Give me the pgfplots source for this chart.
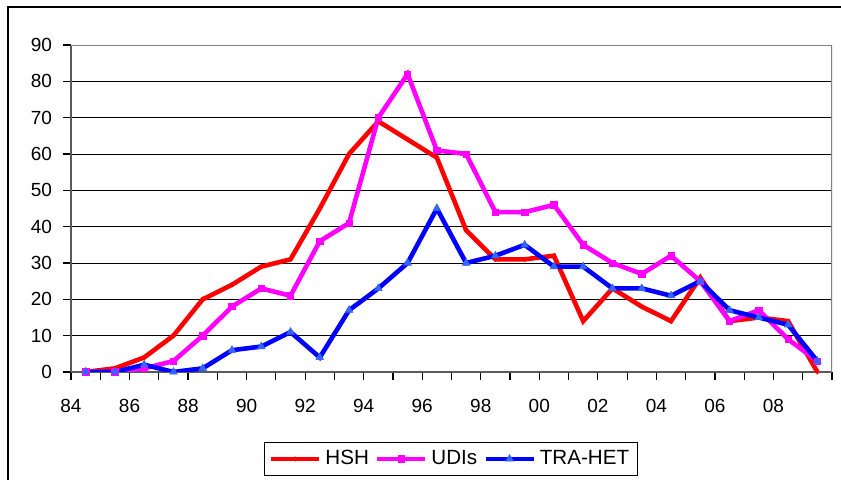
\documentclass[border=0pt]{standalone}
\usepackage{fontspec}
\setmainfont{Liberation Sans}
\usepackage{pgfplots}
\pgfplotsset{compat=1.18}
\definecolor{hsh}{HTML}{FF0000}
\definecolor{udi}{HTML}{FF00FF}
\definecolor{tra}{HTML}{0000FF}
\definecolor{tramark}{HTML}{3366FF}

% index 0..25 = 1985..2010, plotted at category centres (i+0.5)
\begin{document}
\begin{tikzpicture}
\useasboundingbox (0,0) rectangle (420.5pt,240pt);
\draw[black, line width=0.6pt] (4pt,0) -- (4pt,236.5pt) -- (421pt,236.5pt);
\begin{axis}[
  at={(35.5pt,54pt)}, anchor=south west,
  scale only axis, width=380.5pt, height=163.5pt,
  xmin=0, xmax=26, ymin=0, ymax=90,
  xtick={0,...,26},
  xticklabels={84,,86,,88,,90,,92,,94,,96,,98,,00,,02,,04,,06,,08,,,},
  ytick={0,10,...,90},
  ymajorgrids, grid style={black, line width=0.5pt},
  tick align=outside, major tick length=4pt,
  tick style={black, line width=0.6pt},
  axis line style={draw=gray!70!black, line width=1.1pt},
  axis x line*=bottom, axis y line*=left,
  font=\fontsize{9.5}{11}\selectfont,
  /pgf/number format/assume math mode=true,
  xticklabel style={yshift=-6pt},
  yticklabel style={xshift=-2pt},
  legend style={at={(0.4993,-0.266)}, anchor=center, legend columns=3,
    draw=black, line width=0.5pt, inner xsep=2pt, inner ysep=2pt,
    font=\fontsize{10.3}{12}\selectfont,
    /tikz/every odd column/.append style={column sep=0pt},
    /tikz/every even column/.append style={column sep=1pt}},
  legend image code/.code={
    \draw[#1, line width=2.3pt] (0pt,0pt) -- (24pt,0pt);
    \draw[#1] plot coordinates {(12pt,0pt)};},
]
\draw[gray, line width=1.1pt] (axis cs:0,90) -- (axis cs:26,90) -- (axis cs:26,0);
\addplot[color=hsh, line width=2.3pt, mark=diamond*, mark size=1.1pt, mark options={solid, fill=hsh, line width=0.3pt}] coordinates {
(0.5,0) (1.5,1) (2.5,4) (3.5,10) (4.5,20) (5.5,24) (6.5,29) (7.5,31) (8.5,45) (9.5,60)
(10.5,69) (11.5,64) (12.5,59) (13.5,39) (14.5,31) (15.5,31) (16.5,32) (17.5,14) (18.5,23) (19.5,18)
(20.5,14) (21.5,26) (22.5,14) (23.5,15) (24.5,14) (25.5,0)};
\addplot[color=udi, line width=2.3pt, mark=square*, mark size=1.6pt, mark options={solid, fill=udi, line width=0.3pt}] coordinates {
(0.5,0) (1.5,0) (2.5,1) (3.5,3) (4.5,10) (5.5,18) (6.5,23) (7.5,21) (8.5,36) (9.5,41)
(10.5,70) (11.5,82) (12.5,61) (13.5,60) (14.5,44) (15.5,44) (16.5,46) (17.5,35) (18.5,30) (19.5,27)
(20.5,32) (21.5,25) (22.5,14) (23.5,17) (24.5,9) (25.5,3)};
\addplot[color=tra, line width=2.3pt, mark=triangle*, mark size=2.2pt, mark options={solid, draw=tramark, fill=tramark, line width=0.3pt}] coordinates {
(0.5,0) (1.5,0) (2.5,2) (3.5,0) (4.5,1) (5.5,6) (6.5,7) (7.5,11) (8.5,4) (9.5,17)
(10.5,23) (11.5,30) (12.5,45) (13.5,30) (14.5,32) (15.5,35) (16.5,29) (17.5,29) (18.5,23) (19.5,23)
(20.5,21) (21.5,25) (22.5,17) (23.5,15) (24.5,13) (25.5,3)};
\legend{HSH, UDIs, TRA-HET}
\end{axis}
\end{tikzpicture}
\end{document}
